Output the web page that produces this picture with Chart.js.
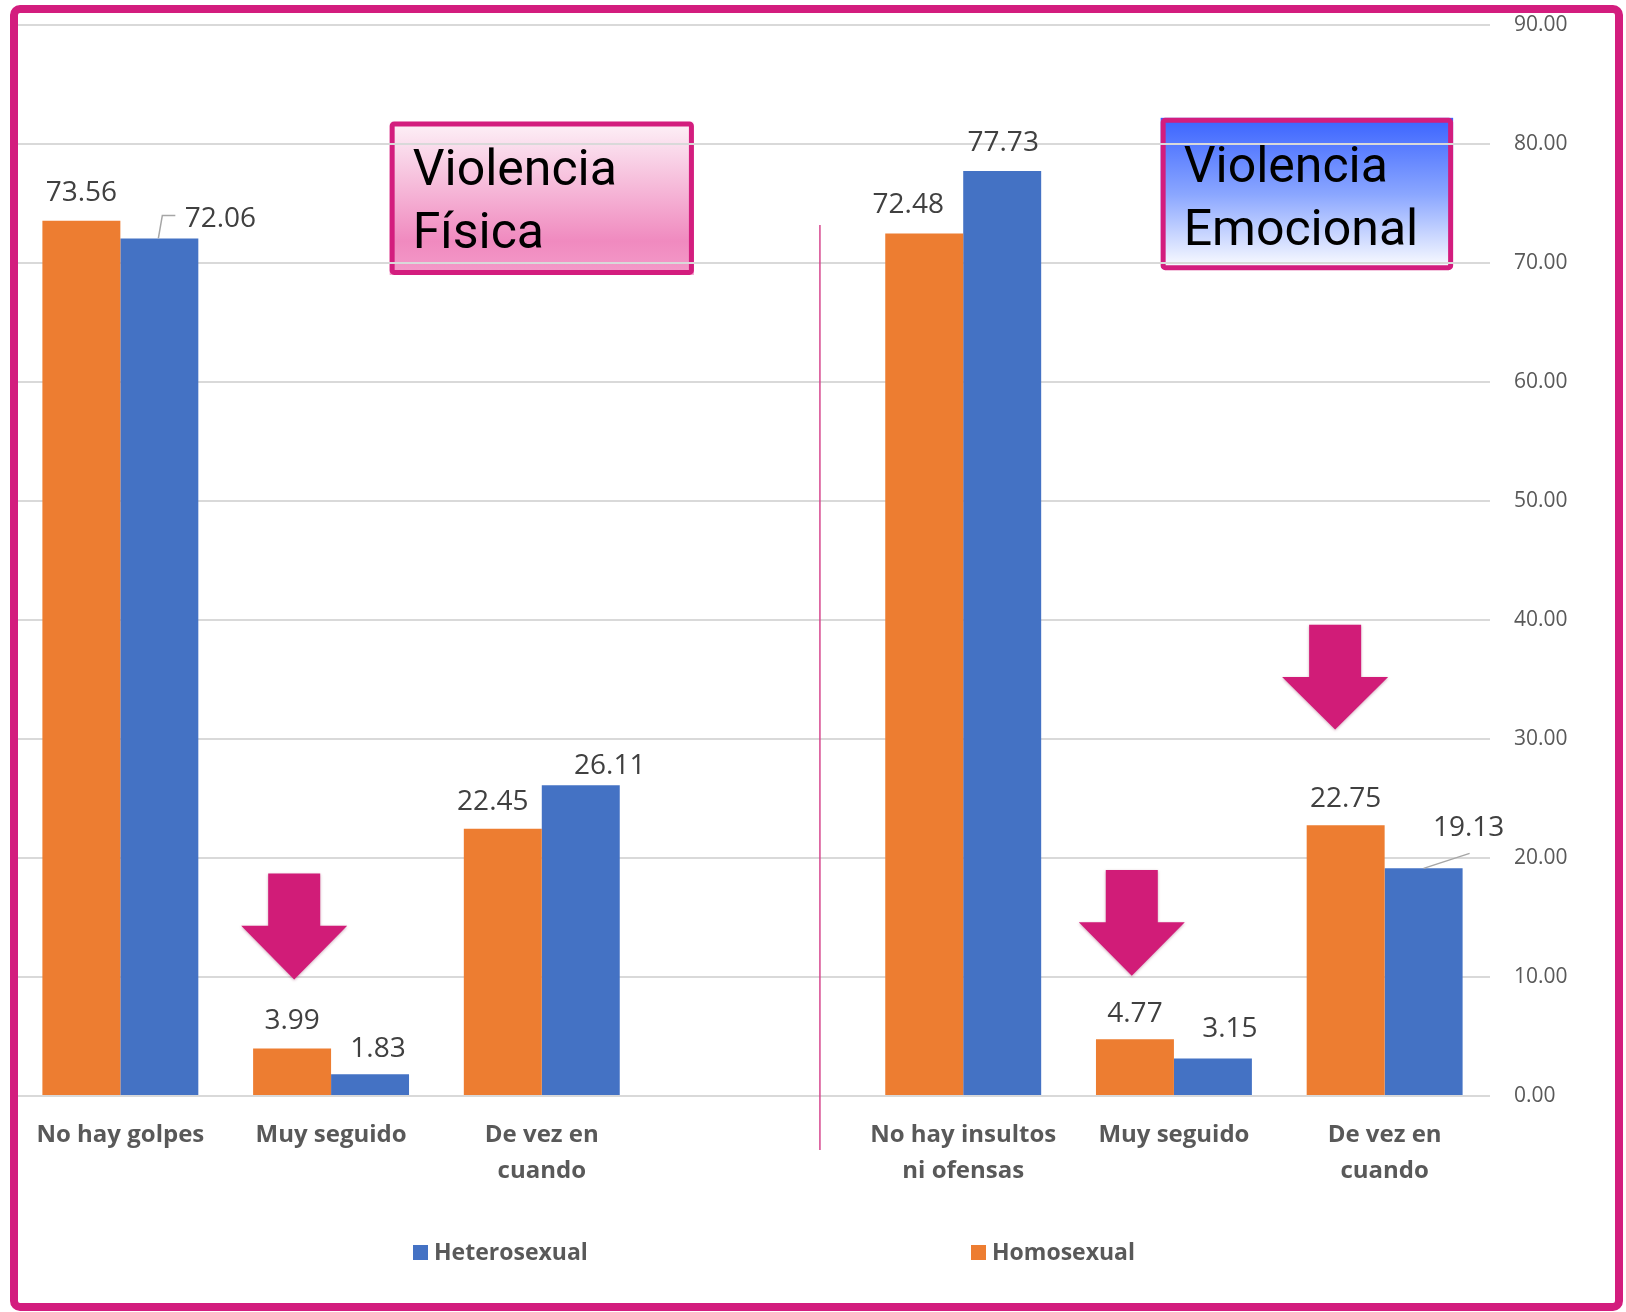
<!DOCTYPE html>
<html><head><meta charset="utf-8">
<script src="https://cdn.jsdelivr.net/npm/chart.js@4.4.1/dist/chart.umd.min.js"></script>
<style>html,body{margin:0;padding:0;background:#fff;} canvas{display:block;}</style>
</head><body>
<canvas id="c" width="1626" height="1312"></canvas>
<script>
// ---------- DATA ----------
const categories = [['No hay golpes'], ['Muy seguido'], ['De vez en', 'cuando'], [''], ['No hay insultos', 'ni ofensas'], ['Muy seguido'], ['De vez en', 'cuando']];
const seriesNames = ['Homosexual', 'Heterosexual'];
const homosexual = [73.56, 3.99, 22.45, null, 72.48, 4.77, 22.75];
const heterosexual = [72.06, 1.83, 26.11, null, 77.73, 3.15, 19.13];
const yTickValues = [0, 10, 20, 30, 40, 50, 60, 70, 80, 90];
const panelTitles = [['Violencia', 'Física'], ['Violencia', 'Emocional']];
const legendOrder = ['Heterosexual', 'Homosexual'];

// ---------- STYLE / PLACEMENT (not data) ----------
const COLORS = { Homosexual: '#ED7D31', Heterosexual: '#4472C4' };
const MAGENTA = '#D31D7E';
// label offsets (px) from top-centre of each bar to the label centre
const labelOffsets = [
  [[0, -30], [0, -29], [-10, -29], null, [-16, -30], [0, -27], [0, -28]],
  [[61, -21], [8, -27], [29, -21], null, [1, -30], [17, -31], [45, -42]]
];
const leaderLines = [
  { ds: 1, i: 0, pts: [[-1, 0], [3, -23], [16, -23]] },
  { ds: 1, i: 6, pts: [[0, 0], [46, -15]] }
];
// decorations placed in data space (category index, value)
const arrows = [
  { x: 0.825, top: 18.7, shoulder: 14.3, tip: 9.8 },
  { x: 4.80, top: 19.0, shoulder: 14.6, tip: 10.1 },
  { x: 5.765, top: 39.6, shoulder: 35.2, tip: 30.8 }
];
const titleBoxes = [
  { x0: 1.278, x1: 2.722, y0: 81.9, y1: 69.0, stops: [[0, '#fdf2f8'], [0.78, '#f08abf'], [1, '#f49bc9']] },
  { x0: 4.937, x1: 6.325, y0: 82.2, y1: 69.4, stops: [[0, '#3a63ff'], [0.5, '#8aa6ff'], [1, '#ffffff']] }
];
const dividerX = 3.32, dividerTop = 73.2;

const decorPlugin = {
  id: 'decor',
  beforeDraw(chart) {
    const { ctx, scales: { x, y } } = chart;
    ctx.save();
    ctx.fillStyle = '#fff';
    ctx.fillRect(0, 0, chart.width, chart.height);
    titleBoxes.forEach((b, k) => {
      const L = x.getPixelForValue(b.x0), R = x.getPixelForValue(b.x1);
      const T = y.getPixelForValue(b.y0), B = y.getPixelForValue(b.y1);
      const g = ctx.createLinearGradient(0, T, 0, B);
      b.stops.forEach(s => g.addColorStop(s[0], s[1]));
      ctx.fillStyle = g;
      ctx.fillRect(L, T, R - L, B - T);
      ctx.lineWidth = 5;
      ctx.strokeStyle = MAGENTA;
      ctx.beginPath();
      ctx.roundRect(L + 2.5, T + 2.5, R - L - 5, B - T - 5, 2);
      ctx.stroke();
      ctx.fillStyle = '#000';
      ctx.font = '50px Roboto';
      ctx.textAlign = 'left';
      ctx.textBaseline = 'alphabetic';
      ctx.fillText(panelTitles[k][0], L + 23, T + 64);
      ctx.fillText(panelTitles[k][1], L + 23, T + 127);
    });
    ctx.restore();
  },
  afterDatasetsDraw(chart) {
    const { ctx, scales: { x, y } } = chart;
    ctx.save();
    // data labels
    ctx.font = '28px "Open Sans"';
    ctx.fillStyle = '#404040';
    ctx.textAlign = 'center';
    ctx.textBaseline = 'middle';
    chart.data.datasets.forEach((ds, d) => {
      const meta = chart.getDatasetMeta(d);
      meta.data.forEach((bar, i) => {
        const v = ds.data[i];
        if (v === null || v === undefined) return;
        const off = labelOffsets[d][i] || [0, -30];
        ctx.fillText(v.toFixed(2), bar.x + off[0], bar.y + off[1] + 2);
      });
    });
    // leader lines
    ctx.strokeStyle = '#A6A6A6';
    ctx.lineWidth = 1.5;
    leaderLines.forEach(l => {
      const bar = chart.getDatasetMeta(l.ds).data[l.i];
      ctx.beginPath();
      l.pts.forEach((p, j) => {
        const px = bar.x + p[0], py = bar.y + p[1];
        if (j === 0) ctx.moveTo(px, py); else ctx.lineTo(px, py);
      });
      ctx.stroke();
    });
    // arrows
    arrows.forEach(a => {
      const cx = x.getPixelForValue(a.x);
      const t = y.getPixelForValue(a.top), s = y.getPixelForValue(a.shoulder), p = y.getPixelForValue(a.tip);
      ctx.beginPath();
      ctx.moveTo(cx - 26, t);
      ctx.lineTo(cx + 26, t);
      ctx.lineTo(cx + 26, s);
      ctx.lineTo(cx + 53, s);
      ctx.lineTo(cx, p);
      ctx.lineTo(cx - 53, s);
      ctx.lineTo(cx - 26, s);
      ctx.closePath();
      ctx.fillStyle = '#D11C78';
      ctx.shadowColor = 'rgba(120,0,60,0.35)';
      ctx.shadowBlur = 3;
      ctx.shadowOffsetY = 1;
      ctx.fill();
      ctx.shadowColor = 'transparent';
    });
    // divider
    const dx = x.getPixelForValue(dividerX);
    ctx.strokeStyle = '#D6468E';
    ctx.lineWidth = 1.5;
    ctx.beginPath();
    ctx.moveTo(dx, y.getPixelForValue(dividerTop));
    ctx.lineTo(dx, y.getPixelForValue(0) + 54);
    ctx.stroke();
    ctx.restore();
  },
  afterDraw(chart) {
    const { ctx } = chart;
    ctx.save();
    // legend
    const pos = [413, 971];
    ctx.font = 'bold 23px "Open Sans"';
    ctx.textAlign = 'left';
    ctx.textBaseline = 'middle';
    legendOrder.forEach((name, k) => {
      ctx.fillStyle = COLORS[name];
      ctx.fillRect(pos[k], 1245, 15, 15);
      ctx.fillStyle = '#595959';
      ctx.fillText(name, pos[k] + 21, 1253);
    });
    // outer frame
    ctx.strokeStyle = MAGENTA;
    ctx.lineWidth = 8;
    ctx.beginPath();
    ctx.roundRect(14, 9, 1605, 1298, 6);
    ctx.stroke();
    ctx.restore();
  }
};

new Chart(document.getElementById('c'), {
  type: 'bar',
  data: {
    labels: categories,
    datasets: [
      { label: seriesNames[0], data: homosexual, backgroundColor: COLORS.Homosexual },
      { label: seriesNames[1], data: heterosexual, backgroundColor: COLORS.Heterosexual }
    ]
  },
  options: {
    responsive: false,
    animation: false,
    devicePixelRatio: 1,
    categoryPercentage: 0.74,
    barPercentage: 1,
    layout: { padding: { left: 15, top: 25, right: 58, bottom: 0 } },
    plugins: { legend: { display: false }, tooltip: { enabled: false } },
    scales: {
      x: {
        grid: { display: false, drawTicks: false },
        border: { display: false },
        ticks: {
          autoSkip: false, maxRotation: 0, minRotation: 0, padding: 21,
          color: '#595959',
          font: { family: '"Open Sans"', size: 24, weight: 'bold', lineHeight: '36px' }
        },
        afterFit(s) { s.height = 216; s.paddingTop = 0; s.paddingBottom = 0; }
      },
      y: {
        position: 'right',
        min: 0, max: 90,
        afterBuildTicks(s) { s.ticks = yTickValues.map(v => ({ value: v })); },
        grid: { color: '#D9D9D9', lineWidth: 2, drawTicks: false },
        border: { display: false },
        ticks: {
          padding: 24,
          color: '#595959',
          font: { family: '"Open Sans"', size: 21 },
          callback: v => Number(v).toFixed(2)
        },
        afterFit(s) { s.width = 78; s.paddingTop = 0; s.paddingBottom = 0; }
      }
    }
  },
  plugins: [decorPlugin]
});
</script>
</body></html>
